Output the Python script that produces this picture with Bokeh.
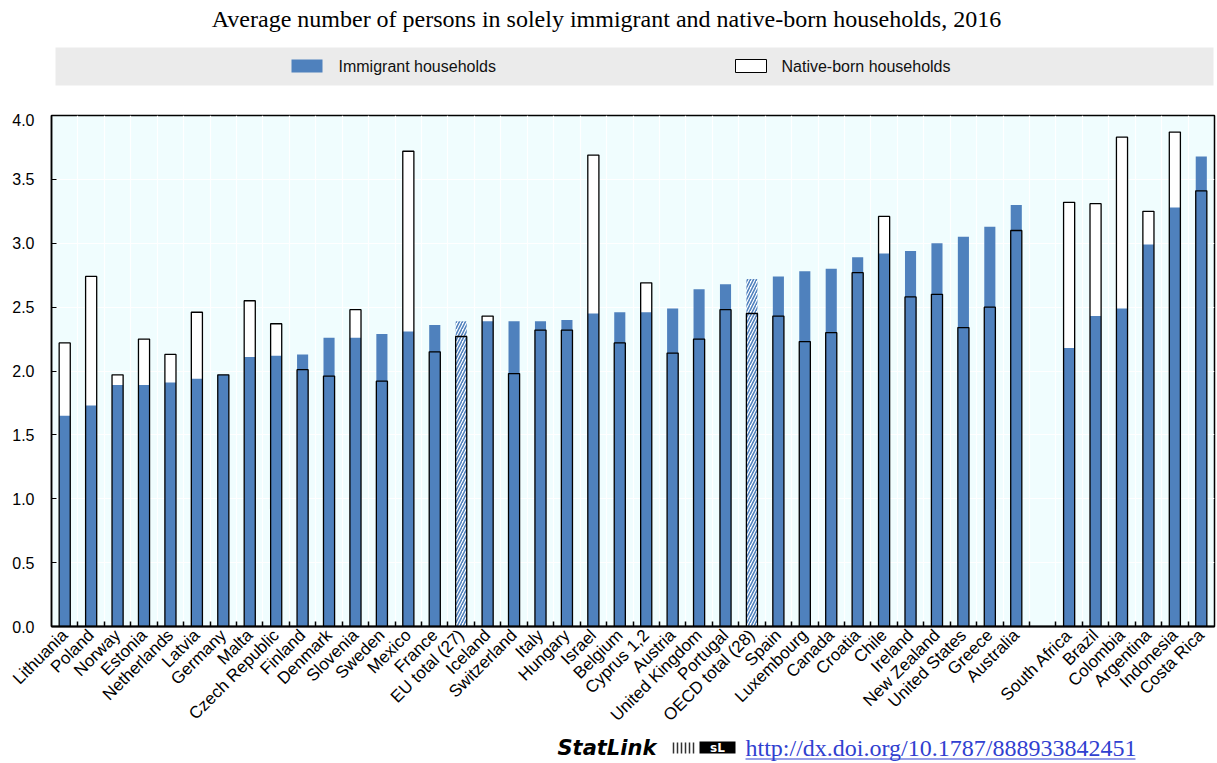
import math
from bokeh.plotting import figure
from bokeh.models import ColumnDataSource, FixedTicker, Range1d, PrintfTickFormatter
from bokeh.layouts import column
from bokeh.embed import file_html
from bokeh.resources import INLINE
from bokeh.core.properties import value

# ---------------- data ----------------
title_text = "Average number of persons in solely immigrant and native-born households, 2016"
legend_labels = ["Immigrant households", "Native-born households"]
statlink_url = "http://dx.doi.org/10.1787/888933842451"

oecd_countries = ["Lithuania", "Poland", "Norway", "Estonia", "Netherlands", "Latvia", "Germany",
                  "Malta", "Czech Republic", "Finland", "Denmark", "Slovenia", "Sweden", "Mexico",
                  "France", "EU total (27)", "Iceland", "Switzerland", "Italy", "Hungary", "Israel",
                  "Belgium", "Cyprus 1,2", "Austria", "United Kingdom", "Portugal", "OECD total (28)",
                  "Spain", "Luxembourg", "Canada", "Croatia", "Chile", "Ireland", "New Zealand",
                  "United States", "Greece", "Australia"]
oecd_immigrant = [1.65, 1.73, 1.89, 1.89, 1.91, 1.94, 1.97, 2.11, 2.12, 2.13, 2.26, 2.26, 2.29, 2.31,
                  2.36, 2.39, 2.39, 2.39, 2.39, 2.40, 2.45, 2.46, 2.46, 2.49, 2.64, 2.68, 2.72,
                  2.74, 2.78, 2.80, 2.89, 2.92, 2.94, 3.00, 3.05, 3.13, 3.30]
oecd_native = [2.22, 2.74, 1.97, 2.25, 2.13, 2.46, 1.97, 2.55, 2.37, 2.01, 1.96, 2.48, 1.92, 3.72,
               2.15, 2.27, 2.43, 1.98, 2.32, 2.32, 3.69, 2.22, 2.69, 2.14, 2.25, 2.48, 2.45,
               2.43, 2.23, 2.30, 2.77, 3.21, 2.58, 2.60, 2.34, 2.50, 3.10]

partner_countries = ["South Africa", "Brazil", "Colombia", "Argentina", "Indonesia", "Costa Rica"]
partner_immigrant = [2.18, 2.43, 2.49, 2.99, 3.28, 3.68]
partner_native = [3.32, 3.31, 3.83, 3.25, 3.87, 3.41]

y_ticks = [0.0, 0.5, 1.0, 1.5, 2.0, 2.5, 3.0, 3.5, 4.0]

# ---------------- styling ----------------
BLUE = "#4F81BD"
BG = "#F0FDFE"
W = 1216
HEAD_H = 113
MAIN_H = 621
FOOT_H = 28
FRAME_L = 51
FRAME_R = W - 2

names = oecd_countries + partner_countries
n_oecd = len(oecd_countries)
xs = list(range(n_oecd)) + [n_oecd + 1 + i for i in range(len(partner_countries))]
n_slots = xs[-1] + 1
boundaries = [k + 0.5 for k in range(n_slots - 1)]
imm = oecd_immigrant + partner_immigrant
nat = oecd_native + partner_native
is_total = ["total" in n for n in names]

src = ColumnDataSource(dict(
    x=xs, name=names, imm=imm, nat=nat,
    fill=["white" if t else BLUE for t in is_total],
    hatch=["/" if t else " " for t in is_total],
))

# ---------------- header (title + legend) ----------------
# the column layout aligns this figure's frame with the chart frame, so its x range
# is set to page pixel columns of that frame
head = figure(width=W, height=HEAD_H, x_range=Range1d(FRAME_L, FRAME_R), y_range=Range1d(HEAD_H, 0),
              toolbar_location=None, output_backend="svg", min_border=0,
              min_border_left=FRAME_L, min_border_right=W - FRAME_R,
              x_axis_location=None, y_axis_location=None)
head.grid.visible = False
head.outline_line_color = None
head.background_fill_color = "white"
head.text(x=[606], y=[18], text=[title_text], text_font=value("Liberation Serif"),
          text_font_size="24px", text_align="center", text_baseline="middle", text_color="black")
head.quad(left=[55], right=[1213], top=[47], bottom=[85], fill_color="#EBEBEB", line_color=None)
head.quad(left=[291], right=[322], top=[59], bottom=[72], fill_color=BLUE, line_color=None)
head.quad(left=[735], right=[766], top=[59], bottom=[72], fill_color="white", line_color="black",
          line_width=1)
head.text(x=[338, 781], y=[66, 66], text=legend_labels, text_font=value("Liberation Sans"),
          text_font_size="16px", text_align="left", text_baseline="middle", text_color="#111111")

# ---------------- main chart ----------------
p = figure(width=W, height=MAIN_H, x_range=Range1d(-0.5, n_slots - 0.5), y_range=Range1d(0, 4),
           toolbar_location=None, output_backend="svg",
           min_border_left=FRAME_L, min_border_right=W - FRAME_R, min_border_top=2,
           min_border_bottom=MAIN_H - 2 - 513)
p.background_fill_color = BG
p.border_fill_color = "white"
p.outline_line_color = "black"
p.outline_line_width = 1.5

p.ygrid.ticker = FixedTicker(ticks=y_ticks)
p.ygrid.grid_line_color = "white"
p.ygrid.grid_line_width = 1.2
p.xgrid.ticker = FixedTicker(ticks=boundaries)
p.xgrid.grid_line_color = "white"
p.xgrid.grid_line_width = 1.2

BW = 0.42
p.vbar(x="x", top="nat", width=BW, source=src, fill_color="white", line_color=None)
p.vbar(x="x", top="imm", width=BW, source=src, fill_color="fill", hatch_pattern="hatch",
       hatch_color=BLUE, hatch_scale=6, hatch_weight=1.6, line_color=None)
p.vbar(x="x", top="nat", width=BW, source=src, fill_color=None, line_color="black",
       line_width=1.3)

p.yaxis.ticker = FixedTicker(ticks=y_ticks)
p.yaxis.formatter = PrintfTickFormatter(format="%.1f")
p.yaxis.major_label_text_font = "Liberation Sans"
p.yaxis.major_label_text_font_size = "16px"
p.yaxis.major_label_text_color = "black"
p.yaxis.major_tick_in = 5
p.yaxis.major_tick_out = 0
p.yaxis.major_tick_line_color = "black"
p.yaxis.minor_tick_line_color = None
p.yaxis.major_label_standoff = 17
p.yaxis.axis_line_color = "black"
p.yaxis.axis_line_width = 1.5

p.xaxis.ticker = FixedTicker(ticks=xs, minor_ticks=boundaries)
p.xaxis.major_label_overrides = {x: n for x, n in zip(xs, names)}
p.xaxis.major_label_orientation = math.pi / 4
p.xaxis.major_label_text_font = "Liberation Sans"
p.xaxis.major_label_text_font_size = "17px"
p.xaxis.major_label_text_color = "black"
p.xaxis.major_label_standoff = 6
p.xaxis.major_tick_in = 0
p.xaxis.major_tick_out = 0
p.xaxis.minor_tick_in = 5
p.xaxis.minor_tick_out = 0
p.xaxis.minor_tick_line_color = "black"
p.xaxis.minor_tick_line_width = 1.5
p.xaxis.axis_line_color = "black"
p.xaxis.axis_line_width = 2

# ---------------- footer (StatLink) ----------------
foot = figure(width=W, height=FOOT_H, x_range=Range1d(FRAME_L, FRAME_R), y_range=Range1d(FOOT_H, 0),
              toolbar_location=None, output_backend="svg", min_border=0,
              min_border_left=FRAME_L, min_border_right=W - FRAME_R,
              x_axis_location=None, y_axis_location=None)
foot.grid.visible = False
foot.outline_line_color = None
MID = 13
foot.text(x=[557], y=[MID], text=["StatLink"], text_font=value("DejaVu Sans"),
          text_font_style="bold italic", text_font_size="21px", text_align="left",
          text_baseline="middle", text_color="black")
# small StatLink icon
foot.segment(x0=[673, 677, 681, 685, 689, 693], y0=[MID - 5] * 6,
             x1=[673, 677, 681, 685, 689, 693], y1=[MID + 6] * 6,
             line_color="#333333", line_width=1.5)
foot.quad(left=[699], right=[735], top=[MID - 6], bottom=[MID + 6], fill_color="black",
          line_color=None)
foot.text(x=[717], y=[MID], text=["sL"], text_font=value("DejaVu Sans"), text_font_style="bold",
          text_font_size="12px", text_align="center", text_baseline="middle", text_color="white")
foot.text(x=[745], y=[MID], text=[statlink_url], text_font=value("Liberation Serif"),
          text_font_size="24px", text_align="left", text_baseline="middle", text_color="#3040D0")
foot.segment(x0=[745], y0=[MID + 11.5], x1=[1135], y1=[MID + 11.5], line_color="#3040D0",
             line_width=1.2)

layout = column(head, p, foot, spacing=0)
open("out.html", "w").write(file_html(layout, INLINE))
